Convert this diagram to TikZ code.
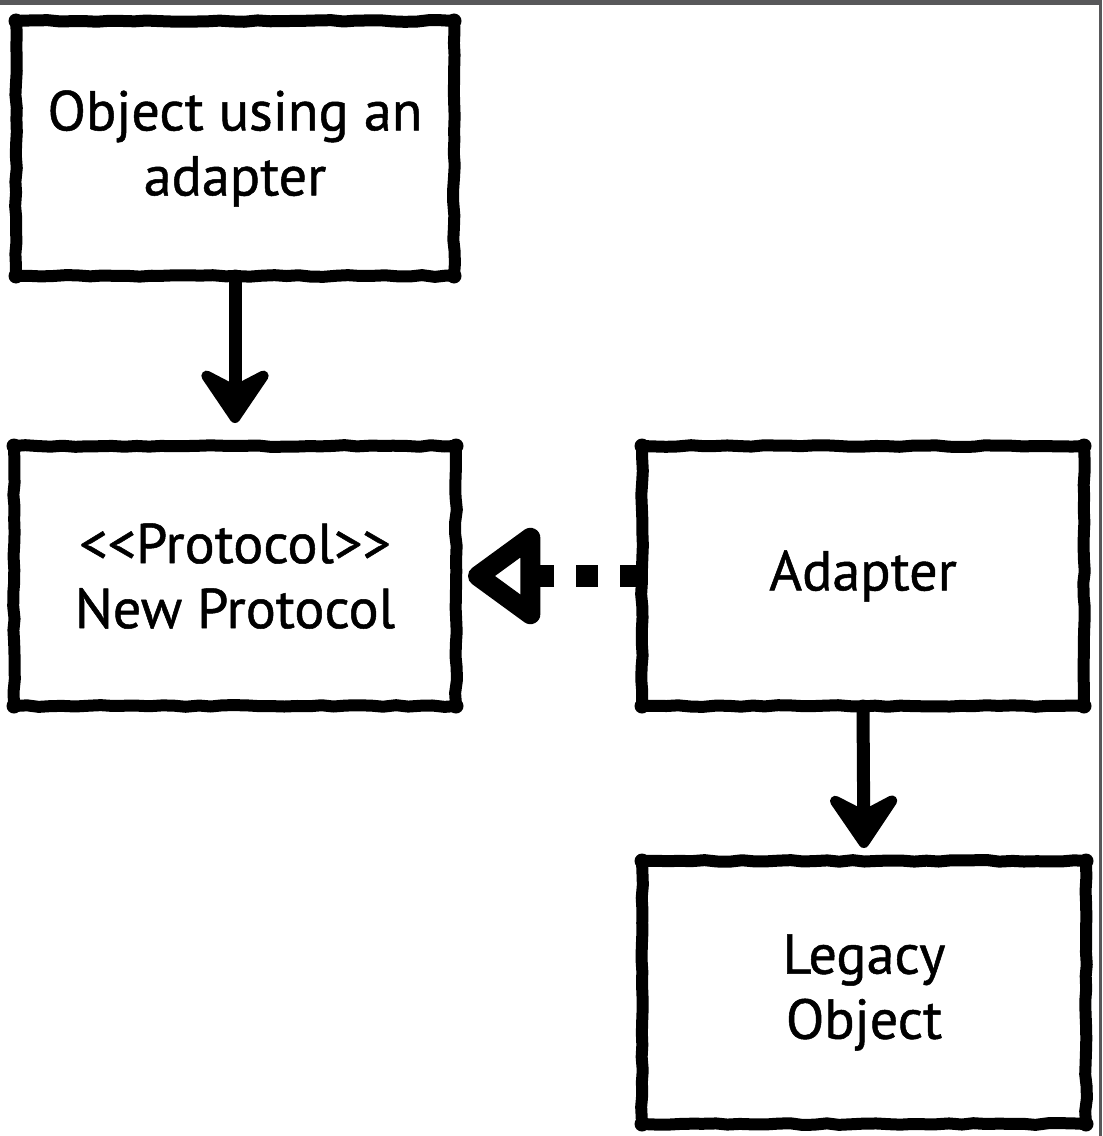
\documentclass[tikz,border=0pt]{standalone}
\usepackage{fontspec}
\setmainfont{PT Sans}[FakeBold=0.9]
\usetikzlibrary{arrows.meta,decorations.pathmorphing}
\definecolor{cadre}{RGB}{88,88,90}

\begin{document}
\begin{tikzpicture}[
    boite/.style={draw, line width=0.24cm, line join=round, outer sep=0pt,
      minimum width=8.84cm, minimum height=5.2cm, inner sep=0pt, align=center,
      font=\fontsize{32}{37}\selectfont,
      decorate, decoration={random steps, segment length=7pt, amplitude=0.5pt}},
    fleche/.style={line width=0.26cm, line cap=round,
      -{Stealth[length=1.3cm, width=1.75cm, inset=0.45cm, round]}},
    realise/.style={line width=0.44cm, dash pattern=on 0.44cm off 0.44cm,
      -{Triangle[open, length=1.6cm, width=2.2cm, line width=0.42cm, round]}}
  ]
  \pgfmathsetseed{7}
  \useasboundingbox (0,0) rectangle (22.04,-22.72);

  % Cadre
  \fill[cadre] (0,0) rectangle (22.04,-0.1);
  \fill[cadre] (21.98,0) rectangle (22.04,-22.72);

  \coordinate (O) at (4.70,-2.97);
  \coordinate (P) at (4.70,-11.52);
  \coordinate (A) at (17.26,-11.52);
  \coordinate (L) at (17.28,-19.85);

  % Boites
  \node[boite, minimum height=5.1cm, minimum width=8.76cm] (objet) at (O) {Object using an\\adapter};
  \node[boite] (proto) at (P) {{<}{<}Protocol{>}{>}\\New Protocol};
  \node[boite] (adapt) at (A) {Adapter};
  \node[boite, minimum height=5.26cm, minimum width=8.88cm] (ancien) at (L) {Legacy\\Object};

  \foreach \n in {objet,proto,adapt,ancien}
    \foreach \c in {north west,north east,south west,south east}
      \fill (\n.\c) circle (0.15);

  % Fleches
  \draw[fleche, shorten >=0.46cm] (objet.south) -- (proto.north);
  \draw[realise, shorten >=0.24cm] (adapt.west) -- (proto.east);
  \draw[fleche, shorten >=0.26cm] (adapt.south) -- (ancien.north);
\end{tikzpicture}
\end{document}
